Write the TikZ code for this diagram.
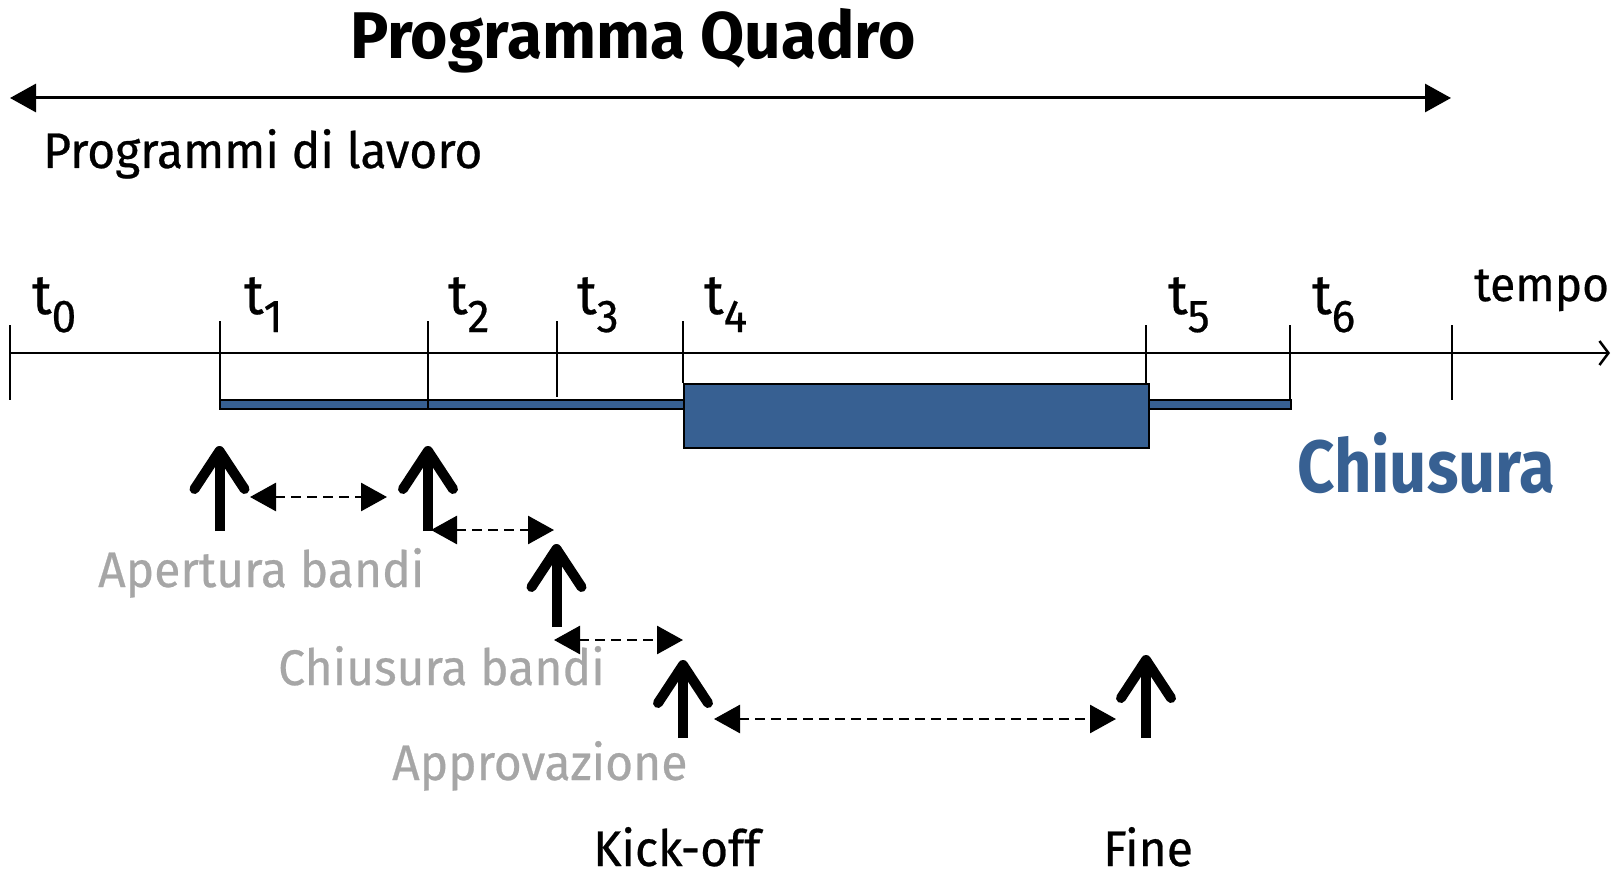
\documentclass[tikz,border=0pt]{standalone}
\usepackage{fontspec}
\setmainfont{Fira Sans}[FakeStretch=0.96, FakeBold=0.5]
\newfontfamily\titlefont{Fira Sans Bold}[FakeStretch=0.97]
\newfontfamily\chiufont{Fira Sans Bold}[FakeStretch=0.88]
\usetikzlibrary{arrows.meta}
\definecolor{barblue}{RGB}{55,96,146}
\definecolor{lblgray}{RGB}{166,166,166}
\newcommand{\tlab}[1]{t\raisebox{-18pt}{\fontsize{46}{46}\selectfont #1}}
\begin{document}
\begin{tikzpicture}[x=1pt,y=-1pt,
  txt/.style={inner sep=0pt, anchor=base west},
  tlabel/.style={txt, font=\fontsize{56}{56}\selectfont},
  glabel/.style={txt, text=lblgray, font=\fontsize{50}{50}\selectfont},
  blabel/.style={txt, font=\fontsize{50}{50}\selectfont},
  axisline/.style={line width=2.5pt},
  tickline/.style={line width=2pt},
  barbox/.style={fill=barblue, draw=black, line width=2pt},
  bigup/.style={line width=10pt, -{Straight Barb[length=38pt,width=50pt,round]}},
  span/.style={line width=2.8pt, dash pattern=on 10pt off 6pt, {Triangle[length=26pt,width=28pt]}-{Triangle[length=26pt,width=28pt]}}
]
\useasboundingbox (0,0) rectangle (1616,877);

% title and top arrow
\node[inner sep=0pt, anchor=base, font=\titlefont\fontsize{66}{66}\selectfont] (title) at (633,59) {Programma Quadro};
\coordinate (pqL) at (10,98);
\coordinate (pqR) at (1451,98);
\draw[line width=3pt, {Triangle[length=26pt,width=28pt]}-{Triangle[length=26pt,width=28pt]}] (pqL) -- (pqR);
\node[blabel] (prog) at (43,168) {Programmi di lavoro};

% time axis
\coordinate (ax0) at (10,353);
\coordinate (ax1) at (1610,353);
\draw[axisline, -{Straight Barb[length=9pt,width=24pt]}] (ax0) -- (ax1);

% bars
\path[barbox] (220,400) rectangle (1291,409);
\node[barbox, minimum width=465pt, minimum height=64pt, inner sep=0pt, anchor=north west] (box) at (683,383) {};

% ticks
\coordinate (k0a) at (10,325);   \coordinate (k0b) at (10,400);
\coordinate (k1a) at (219.5,321); \coordinate (k1b) at (219.5,400);
\coordinate (k2a) at (428,321);  \coordinate (k2b) at (428,409);
\coordinate (k3a) at (556.5,321); \coordinate (k3b) at (556.5,397);
\coordinate (k4a) at (683,321);  \coordinate (k4b) at (683,383);
\coordinate (k5a) at (1146,325); \coordinate (k5b) at (1146,383);
\coordinate (k6a) at (1290,325); \coordinate (k6b) at (1290,400);
\coordinate (k7a) at (1452,325); \coordinate (k7b) at (1452,400);
\foreach \i in {0,...,7} {\draw[tickline] (k\i a) -- (k\i b);}

% t labels
\node[tlabel] (t0) at (32,314) {\tlab{0}};
\node[tlabel] (t1) at (244,314) {\tlab{1}};
\node[tlabel] (t2) at (448,314) {\tlab{2}};
\node[tlabel] (t3) at (577,314) {\tlab{3}};
\node[tlabel] (t4) at (704,314) {\tlab{4}};
\node[tlabel] (t5) at (1168,314) {\tlab{5}};
\node[tlabel] (t6) at (1312,314) {\tlab{6}};
\node[txt, font=\fontsize{48}{48}\selectfont] (tempo) at (1474,301) {tempo};

\node[txt, text=barblue, font=\chiufont\fontsize{74}{74}\selectfont] (chius) at (1297,492) {Chiusura};

% up arrows
\coordinate (u1b) at (219.5,531); \coordinate (u1t) at (219.5,446);
\coordinate (u2b) at (428,531);   \coordinate (u2t) at (428,446);
\coordinate (u3b) at (556.5,627); \coordinate (u3t) at (556.5,544);
\coordinate (u4b) at (683,738);   \coordinate (u4t) at (683,660);
\coordinate (u5b) at (1146,738);  \coordinate (u5t) at (1146,655);
\foreach \i in {1,...,5} {\draw[bigup] (u\i b) -- (u\i t);}

% dashed spans
\coordinate (d1a) at (250,497); \coordinate (d1b) at (387,497);
\coordinate (d2a) at (431,530); \coordinate (d2b) at (554,530);
\coordinate (d3a) at (554,640); \coordinate (d3b) at (683,640);
\coordinate (d4a) at (714,719); \coordinate (d4b) at (1116,719);
\foreach \i in {1,...,4} {\draw[span] (d\i a) -- (d\i b);}

% labels
\node[glabel] (ap) at (98,587) {Apertura bandi};
\node[glabel] (cb) at (278,685) {Chiusura bandi};
\node[glabel] (appr) at (392,780) {Approvazione};
\node[blabel] (ko) at (593,866) {Kick-off};
\node[blabel] (fine) at (1103,866) {Fine};
\end{tikzpicture}
\end{document}
